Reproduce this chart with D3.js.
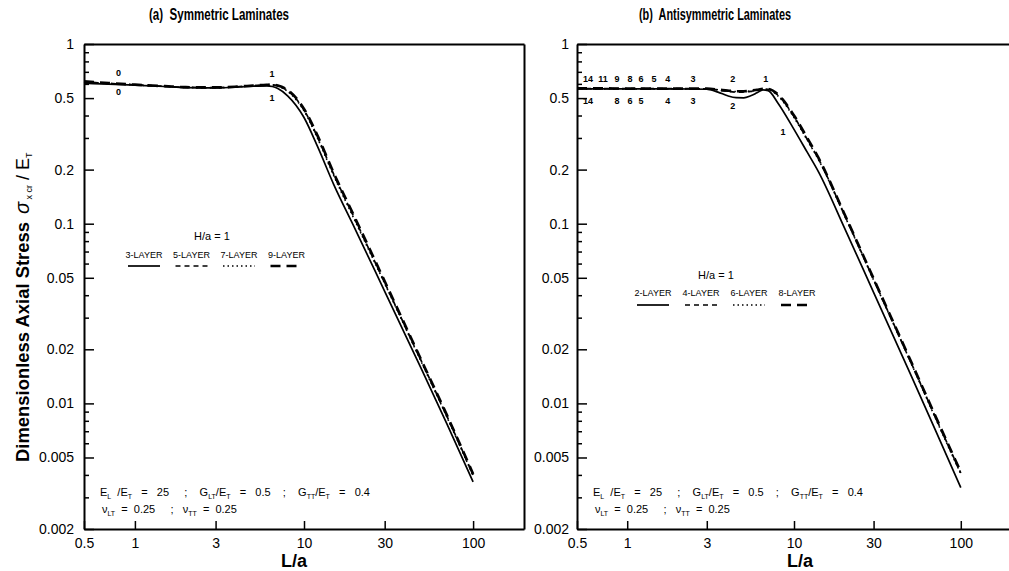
<!DOCTYPE html>
<html><head><meta charset="utf-8">
<script src="https://cdn.jsdelivr.net/npm/d3@7"></script>
<style>
body{margin:0;background:#fff}
svg{display:block}
text{font-family:"Liberation Sans",Arial,Helvetica,sans-serif;fill:#000;white-space:pre}
</style>
</head><body>
<svg id="c" width="1009" height="571"></svg>
<script>
// ---------- data ----------
const xTickValues = [0.5, 1, 3, 10, 30, 100];
const xTickLabels = ["0.5", "1", "3", "10", "30", "100"];
const yTickValues = [1, 0.5, 0.2, 0.1, 0.05, 0.02, 0.01, 0.005, 0.002];
const yTickLabels = ["1", "0.5", "0.2", "0.1", "0.05", "0.02", "0.01", "0.005", "0.002"];
const yMinorValues = [0.9, 0.8, 0.7, 0.6, 0.4, 0.3, 0.09, 0.08, 0.07, 0.06, 0.04, 0.03,
                      0.009, 0.008, 0.007, 0.006, 0.004, 0.003];

// (a) symmetric laminates
const symL  = [0.5, 0.7, 1, 1.5, 2, 3, 4, 5, 6, 6.5, 7, 8, 10, 12, 15, 20, 30, 50, 70, 100];
const sym3  = [0.605, 0.598, 0.590, 0.580, 0.572, 0.570, 0.575, 0.582, 0.585, 0.580, 0.565, 0.515, 0.390, 0.270, 0.165, 0.094, 0.0420, 0.0152, 0.0077, 0.00366];
const sym5  = [0.615, 0.604, 0.593, 0.582, 0.574, 0.572, 0.578, 0.586, 0.592, 0.592, 0.585, 0.550, 0.430, 0.305, 0.188, 0.106, 0.0470, 0.0168, 0.0085, 0.00400];
const sym7  = [0.612, 0.602, 0.592, 0.581, 0.573, 0.571, 0.577, 0.585, 0.590, 0.590, 0.583, 0.545, 0.425, 0.300, 0.185, 0.104, 0.0465, 0.0166, 0.0084, 0.00396];
const sym9  = [0.620, 0.606, 0.594, 0.583, 0.575, 0.573, 0.579, 0.587, 0.593, 0.594, 0.588, 0.555, 0.435, 0.310, 0.191, 0.108, 0.0478, 0.0170, 0.0086, 0.00405];
const symNames = ["3-LAYER", "5-LAYER", "7-LAYER", "9-LAYER"];
const symMarks = [["0", 0.80, 0.69], ["0", 0.80, 0.54], ["1", 6.47, 0.68], ["1", 6.47, 0.50]];

// (b) antisymmetric laminates
const antiL = [0.5, 0.7, 1, 1.5, 2, 3, 3.5, 4, 4.5, 5, 5.5, 6, 6.5, 7, 8, 10, 12, 14, 20, 30, 50, 70, 100];
const anti2 = [0.562, 0.562, 0.562, 0.562, 0.562, 0.560, 0.540, 0.515, 0.503, 0.502, 0.515, 0.535, 0.555, 0.550, 0.470, 0.335, 0.250, 0.195, 0.0955, 0.0415, 0.0145, 0.0072, 0.0034];
const anti4 = [0.565, 0.565, 0.564, 0.564, 0.564, 0.563, 0.555, 0.545, 0.540, 0.540, 0.545, 0.552, 0.560, 0.560, 0.520, 0.395, 0.295, 0.230, 0.113, 0.0490, 0.0171, 0.0085, 0.00410];
const anti6 = [0.564, 0.564, 0.563, 0.563, 0.563, 0.562, 0.556, 0.548, 0.544, 0.544, 0.548, 0.554, 0.560, 0.558, 0.515, 0.390, 0.292, 0.228, 0.112, 0.0486, 0.0170, 0.0084, 0.00405];
const anti8 = [0.566, 0.566, 0.565, 0.565, 0.565, 0.564, 0.558, 0.550, 0.546, 0.546, 0.550, 0.556, 0.562, 0.562, 0.525, 0.400, 0.300, 0.233, 0.114, 0.0495, 0.0173, 0.0086, 0.00415];
const antiNames = ["2-LAYER", "4-LAYER", "6-LAYER", "8-LAYER"];
const antiMarks = [["14", 0.582, 0.638], ["11", 0.716, 0.638], ["9", 0.868, 0.638], ["8", 1.04, 0.638],
                   ["6", 1.21, 0.638], ["5", 1.45, 0.638], ["4", 1.75, 0.638], ["3", 2.48, 0.638],
                   ["2", 4.30, 0.638], ["1", 6.78, 0.638],
                   ["14", 0.582, 0.482], ["8", 0.868, 0.482], ["6", 1.04, 0.482], ["5", 1.21, 0.482],
                   ["4", 1.75, 0.482], ["3", 2.48, 0.482], ["2", 4.30, 0.455], ["1", 8.58, 0.324]];

// ---------- drawing ----------
const svg = d3.select("#c");
const styles = [
  {dash: null, w: 1.7},
  {dash: "5,4", w: 1.7},
  {dash: "1.5,3", w: 1.6},
  {dash: "10,6", w: 2.7}
];

function richText(g, x, y, segs, size, subSize) {
  const t = g.append("text").attr("x", x).attr("y", y).attr("font-size", size);
  let shifted = false;
  segs.forEach(s => {
    if (typeof s === "string") {
      const sp = t.append("tspan").text(s);
      if (shifted) { sp.attr("dy", -3); shifted = false; }
    } else {
      t.append("tspan").attr("font-size", subSize).attr("dy", 3).text(s.sub);
      shifted = true;
    }
  });
  return t;
}

function panel(opt) {
  const g = svg.append("g");
  const x = d3.scaleLog().domain([0.5, 200]).range(opt.xr);
  const y = d3.scaleLog().domain([0.002, 1]).range([529, 44]);

  // frame
  g.append("g").attr("transform", "translate(0,44)")
    .call(d3.axisTop(x).tickValues([]).tickSizeOuter(0));
  g.append("g").attr("transform", `translate(${opt.xr[1]},0)`)
    .call(d3.axisRight(y).tickValues([]).tickSizeOuter(0));

  // x axis
  g.append("g").attr("transform", "translate(0,529)")
    .call(d3.axisBottom(x).tickValues(xTickValues).tickFormat((d, i) => xTickLabels[i])
      .tickSizeInner(-8).tickSizeOuter(0).tickPadding(9))
    .call(a => a.selectAll("text").attr("font-size", 14).attr("font-family", null));
  // y axis
  g.append("g").attr("transform", `translate(${opt.xr[0]},0)`)
    .call(d3.axisLeft(y).tickValues(yTickValues).tickFormat((d, i) => yTickLabels[i])
      .tickSizeInner(-10).tickSizeOuter(0).tickPadding(opt.ypad))
    .call(a => a.selectAll("text").attr("font-size", 14).attr("font-family", null));
  g.append("g").attr("transform", `translate(${opt.xr[0]},0)`)
    .call(d3.axisLeft(y).tickValues(yMinorValues).tickFormat("").tickSizeInner(-5).tickSizeOuter(0))
    .call(a => a.select(".domain").remove());

  g.selectAll(".domain").attr("stroke-width", 2);
  g.selectAll(".tick line").attr("stroke-width", 1.5);

  // curves
  const line = d3.line().x(d => x(d[0])).y(d => y(d[1])).curve(d3.curveMonotoneX);
  opt.series.forEach((s, i) => {
    g.append("path").datum(opt.L.map((v, k) => [v, s[k]]))
      .attr("fill", "none").attr("stroke", "#000")
      .attr("stroke-width", styles[i].w)
      .attr("stroke-dasharray", styles[i].dash)
      .attr("d", line);
  });

  // curve annotations
  opt.marks.forEach(m => {
    g.append("text").attr("x", x(m[1])).attr("y", y(m[2])).attr("dy", "0.35em")
      .attr("text-anchor", "middle").attr("font-size", 9).attr("font-weight", "bold").text(m[0]);
  });

  // legend
  const lg = opt.legend;
  g.append("text").attr("x", lg.hx).attr("y", lg.hy).attr("text-anchor", "middle")
    .attr("font-size", 11).text("H/a = 1");
  opt.names.forEach((n, i) => {
    const cx = lg.x0 + i * lg.dx;
    g.append("text").attr("x", cx).attr("y", lg.ty).attr("text-anchor", "middle")
      .attr("font-size", 9).text(n);
    g.append("line").attr("x1", cx - 16).attr("x2", cx + 16).attr("y1", lg.ly).attr("y2", lg.ly)
      .attr("stroke", "#000").attr("stroke-width", styles[i].w).attr("stroke-dasharray", styles[i].dash);
  });

  // material text
  richText(g, opt.mx, 496, ["E", {sub: "L"}, "  /E", {sub: "T"}, "   =   25     ;    G", {sub: "LT"},
    "/E", {sub: "T"}, "   =   0.5    ;    G", {sub: "TT"}, "/E", {sub: "T"}, "   =   0.4"], 11, 7);
  richText(g, opt.mx + 2, 513, ["\u03bd", {sub: "LT"}, "  =  0.25     ;   \u03bd", {sub: "TT"}, "  =  0.25"], 11, 7);

  // x label & title
  g.append("text").attr("x", opt.lx).attr("y", 567).attr("text-anchor", "middle")
    .attr("font-size", 18).attr("font-weight", "bold").text("L/a");
  g.append("text").attr("x", opt.tx).attr("y", 20).attr("text-anchor", "middle")
    .attr("font-size", 16).attr("font-weight", "bold")
    .attr("textLength", opt.tw).attr("lengthAdjust", "spacingAndGlyphs").text(opt.title);
}

panel({xr: [84, 524], ypad: 10, L: symL, series: [sym3, sym5, sym7, sym9], names: symNames, marks: symMarks,
  legend: {hx: 212, hy: 240, x0: 144, dx: 47.5, ty: 258, ly: 266},
  mx: 100, lx: 294, tx: 219, tw: 140, title: "(a)  Symmetric Laminates"});
panel({xr: [577, 1011], ypad: 8, L: antiL, series: [anti2, anti4, anti6, anti8], names: antiNames, marks: antiMarks,
  legend: {hx: 716, hy: 279, x0: 653, dx: 48, ty: 296, ly: 305},
  mx: 593, lx: 800, tx: 715, tw: 152, title: "(b)  Antisymmetric Laminates"});

// y-axis title (rotated)
const yl = svg.append("g").attr("transform", "translate(29,0)");
yl.append("text").attr("transform", "translate(0,342) rotate(-90)").attr("text-anchor", "middle")
  .attr("font-size", 18).attr("font-weight", "bold").attr("textLength", 240)
  .attr("lengthAdjust", "spacingAndGlyphs").text("Dimensionless Axial Stress");
const sg = yl.append("text").attr("transform", "translate(0,214) rotate(-90)").attr("font-size", 20);
sg.append("tspan").attr("font-style", "italic").text("\u03c3");
sg.append("tspan").attr("font-size", 9).attr("dy", 3).text(" x cr");
sg.append("tspan").attr("dy", -3).attr("font-size", 18).text(" / E");
sg.append("tspan").attr("font-size", 9).attr("dy", 3).text("T");
</script>
</body></html>
